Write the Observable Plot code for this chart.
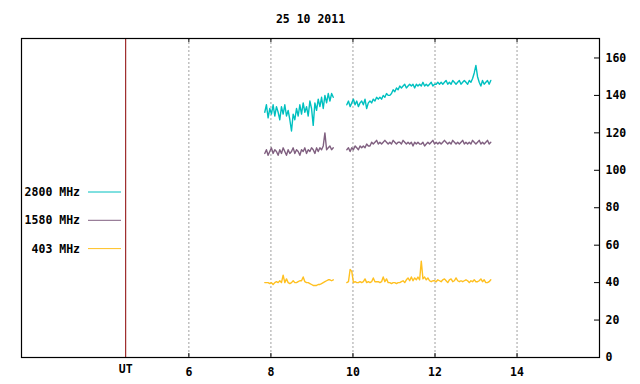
<!DOCTYPE html>
<html>
<head>
<meta charset="utf-8">
<script src="https://cdn.jsdelivr.net/npm/d3@7"></script>
<script src="https://cdn.jsdelivr.net/npm/@observablehq/plot@0.6"></script>
<style>
  body { margin: 0; background: #fff; }
  #chart svg { display: block; }
</style>
</head>
<body>
<div id="chart"></div>
<script>
// ---- data ----
const title = "25 10 2011";
const seriesNames = ["2800 MHz", "1580 MHz", "403 MHz"];
const seriesColors = ["#00c0c0", "#806080", "#ffc020"];
const xTicks = [6, 8, 10, 12, 14];
const yTicks = [0, 20, 40, 60, 80, 100, 120, 140, 160];
const utPos = 4.46;           // position of the "UT" marker line (hours)
const seg1 = [7.85, 9.52];    // first observing interval (UT hours)
const seg2 = [9.85, 13.36];   // second observing interval (UT hours)

const f2800_a = [131, 135, 128, 133, 130, 135, 129, 134, 131, 127, 134, 130, 135, 129, 132, 127, 121, 130, 127, 133, 129, 135, 130, 136, 131, 134, 129, 137, 133, 124, 136, 132, 138, 134, 139, 133, 140, 136, 141, 137, 141, 139];
const f2800_b = [135, 137, 134, 136, 138, 135, 137, 134, 136, 137, 135, 138, 133, 136,
  137, 136, 138, 137, 139, 138, 139, 138, 140, 139, 141, 140, 140, 141,
  143, 142, 144, 143, 145, 144, 145, 146, 144, 145, 146,
  145, 146, 144, 146, 145, 146, 145, 147, 145, 146, 145, 146, 147, 145, 146, 146,
  147, 146, 147, 146, 147, 148, 146, 147, 146, 148, 147, 146, 147, 148, 146, 147, 148, 147, 146, 148,
  147, 149, 152, 156,
  150, 147, 145, 148, 146, 147, 148, 146, 148];

const f1580_a = [109, 111, 108, 110, 112, 109, 111, 110, 108, 111, 109, 112, 110, 108, 111, 109, 110, 112, 109, 111, 110, 108, 111, 110, 112, 109, 111, 110, 112, 111, 109, 112, 110, 112, 111, 113, 120, 111, 112, 113, 111, 112];
const f1580_b = [111, 112, 110, 112, 111, 113, 112, 111, 113, 112, 113, 112, 114, 113, 113,
  115, 114, 115, 116, 114, 115, 114, 115, 116, 115, 114, 115, 114, 116, 115, 114, 115, 115, 114, 116,
  115, 114, 115, 114, 115, 113, 115, 114, 115, 114, 114, 115, 113, 114, 115, 114, 115, 116, 114, 115,
  114, 115, 114, 115, 116, 115, 114, 115, 114, 116, 115, 114, 115, 114, 115, 116, 114, 115, 114, 115,
  114, 116, 115, 114, 115, 116, 114, 115, 114, 115, 116, 114, 115];

const f403_a = [40, 40, 40, 39.5, 40, 39, 40, 40.5, 40, 41, 40, 44, 40, 42, 40, 39.5, 40, 41, 40, 40, 40.5, 41, 41, 43, 40.5, 40, 40, 39.5, 39, 38.5, 38.5, 38.5, 39, 39, 39.5, 40, 40.5, 41, 41.5, 41.5, 41, 41.5];
const f403_b = [40, 40.5, 47, 46, 40, 40.5, 40, 40, 40.5, 40,
  40.5, 42, 40, 40.5, 40, 40.5, 42.5, 40.5, 40.5, 40.5,
  40, 40.5, 43, 40.5, 42, 40, 40, 39.5, 40, 40,
  39.5, 40, 40, 40.5, 41, 40, 41.5, 42.5, 41, 43,
  41, 42.5, 41.5, 43, 41.5, 51.5, 42, 43, 41.5, 42.5,
  41, 40.5, 41, 41, 40.5, 41.5, 41, 40.5, 41.5, 42,
  41, 40, 41.5, 42, 40.5, 41, 42.5, 41, 40.5, 41,
  40.5, 41, 41.5, 41, 40, 41, 40.5, 41.5, 40.5, 40.5,
  41, 42, 40.5, 41.5, 40, 40, 40.5, 41.5];

// ---- build table ----
function segRows(name, [t0, t1], vals) {
  const n = vals.length;
  return vals.map((v, i) => ({series: name, t: t0 + (t1 - t0) * i / (n - 1), v}));
}
const pairs = [[f2800_a, f2800_b], [f1580_a, f1580_b], [f403_a, f403_b]];
const rows = [];
seriesNames.forEach((name, k) => {
  rows.push(...segRows(name, seg1, pairs[k][0]));
  rows.push({series: name, t: (seg1[1] + seg2[0]) / 2, v: NaN}); // gap
  rows.push(...segRows(name, seg2, pairs[k][1]));
});

// ---- layout ----
const W = 640, H = 384;
const mL = 21, mR = 41, mT = 38, mB = 27;
const plotW = W - mL - mR, plotH = H - mT - mB;
const font = "'DejaVu Sans Mono', 'Liberation Mono', monospace";

const chart = Plot.plot({
  width: W,
  height: H,
  marginLeft: mL,
  marginRight: mR,
  marginTop: mT,
  marginBottom: mB,
  style: {fontFamily: font, fontSize: "11.5px", fontWeight: "bold", background: "#fff", color: "#000"},
  x: {domain: [1.92, 16.01], axis: null, label: null},
  y: {domain: [0, 170.4], axis: null, label: null},
  color: {domain: seriesNames, range: seriesColors},
  marks: [
    Plot.ruleX(xTicks, {stroke: "#a0a0a0", strokeDasharray: "2,2", strokeWidth: 1}),
    Plot.ruleX([utPos], {stroke: "#8b0000", strokeWidth: 1}),
    Plot.line(rows, {x: "t", y: "v", z: "series", stroke: "series", strokeWidth: 1.4}),
    Plot.tickX(xTicks, {x: d => d, insetTop: plotH - 4, stroke: "#000"}),
    Plot.tickX(xTicks, {x: d => d, insetBottom: plotH - 4, stroke: "#000"}),
    Plot.tickY(yTicks, {y: d => d, insetLeft: plotW - 5, stroke: "#000"}),
    Plot.axisX(xTicks, {anchor: "bottom", tickSize: 0, tickPadding: 10, label: null, fontWeight: "bold"}),
    Plot.axisY(yTicks, {anchor: "right", tickSize: 0, tickPadding: 6, label: null, fontWeight: "bold"}),
    Plot.text([utPos], {x: d => d, text: () => "UT", frameAnchor: "bottom", dy: 15, fontWeight: "bold"}),
    Plot.text([title], {text: d => d, frameAnchor: "top", dy: -24, fontWeight: "bold"}),
    Plot.frame({stroke: "#000", strokeWidth: 1.2})
  ]
});

// legend drawn inside the left part of the frame
const svg = d3.select(chart);
const lg = svg.append("g").attr("font-family", font).attr("font-size", "11.5px").attr("font-weight", "bold");
seriesNames.forEach((name, i) => {
  const y = 192 + i * 28.3;
  lg.append("text").attr("x", 80).attr("y", y).attr("dy", "0.35em")
    .attr("text-anchor", "end").attr("fill", "#000").text(name);
  lg.append("line").attr("x1", 88).attr("x2", 121).attr("y1", y).attr("y2", y)
    .attr("stroke", seriesColors[i]).attr("stroke-width", 1);
});

document.getElementById("chart").append(chart);
</script>
</body>
</html>
